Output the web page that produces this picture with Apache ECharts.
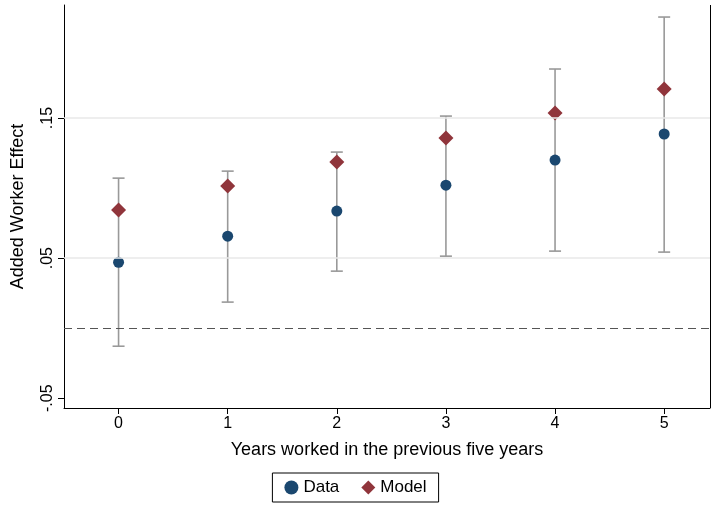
<!DOCTYPE html>
<html>
<head>
<meta charset="utf-8">
<script src="https://cdn.jsdelivr.net/npm/echarts@6/dist/echarts.min.js"></script>
<style>html,body{margin:0;padding:0;background:#fff}#c{width:711px;height:506px}</style>
</head>
<body>
<div id="c"></div>
<script>
var years = [0, 1, 2, 3, 4, 5];
var dataVals = [0.047, 0.0657, 0.0836, 0.1021, 0.12, 0.1386];
var modelVals = [0.0843, 0.1014, 0.1186, 0.1357, 0.1536, 0.1707];
var ciLow = [-0.0129, 0.0186, 0.0407, 0.0514, 0.055, 0.0543];
var ciHigh = [0.1071, 0.1121, 0.1257, 0.1514, 0.185, 0.2221];
var yTicks = [-0.05, 0.05, 0.15];

var chart = echarts.init(document.getElementById('c'));
var font = 'Liberation Sans';

chart.setOption({
    animation: false,
    textStyle: { fontFamily: font },
    grid: { left: 64, right: 1, top: 5, bottom: 98 },
    xAxis: {
        type: 'value', min: -0.5, max: 5.42,
        name: 'Years worked in the previous five years',
        nameLocation: 'middle', nameGap: 33,
        nameTextStyle: { fontSize: 18, color: '#000' },
        axisLine: { onZero: false, lineStyle: { color: '#000' } },
        axisTick: { customValues: years, length: 6, lineStyle: { color: '#000' } },
        axisLabel: { customValues: years, fontSize: 16, color: '#000' },
        splitLine: { show: false }
    },
    yAxis: {
        type: 'value', min: -0.057, max: 0.2307,
        name: 'Added Worker Effect',
        nameLocation: 'middle', nameGap: 37,
        nameTextStyle: { fontSize: 18, color: '#000' },
        axisLine: { show: true, onZero: false, lineStyle: { color: '#000' } },
        axisTick: { customValues: yTicks, length: 6, lineStyle: { color: '#000' } },
        axisLabel: {
            customValues: yTicks, fontSize: 16, color: '#000', rotate: 90,
            formatter: function (v) { return String(Math.round(v * 100) / 100).replace('0.', '.'); }
        },
        splitLine: { show: false }
    },
    legend: {
        bottom: 4, left: 'center',
        borderColor: '#000', borderWidth: 1, padding: [6, 12],
        itemGap: 22, itemWidth: 14, itemHeight: 14,
        textStyle: { fontSize: 17, color: '#000' },
        data: [
            { name: 'Data', icon: 'circle' },
            { name: 'Model', icon: 'diamond' }
        ]
    },
    series: [
        {
            type: 'custom', name: 'ci', silent: true, z: 1,
            data: years.map(function (x, i) { return [x, ciLow[i], ciHigh[i]]; }),
            renderItem: function (params, api) {
                var lo = api.coord([api.value(0), api.value(1)]);
                var hi = api.coord([api.value(0), api.value(2)]);
                var w = 6;
                var st = { stroke: '#999', lineWidth: 1.6 };
                return { type: 'group', children: [
                    { type: 'line', shape: { x1: lo[0], y1: lo[1], x2: hi[0], y2: hi[1] }, style: st },
                    { type: 'line', shape: { x1: lo[0] - w, y1: lo[1], x2: lo[0] + w, y2: lo[1] }, style: st },
                    { type: 'line', shape: { x1: hi[0] - w, y1: hi[1], x2: hi[0] + w, y2: hi[1] }, style: st }
                ] };
            }
        },
        {
            type: 'line', name: 'zero', silent: true, symbol: 'none', data: [],
            markLine: {
                symbol: 'none', silent: true, label: { show: false },
                lineStyle: { color: '#555', type: [8, 5], width: 1.2 },
                data: [{ yAxis: 0 }]
            }
        },
        {
            type: 'line', name: 'grid', silent: true, symbol: 'none', data: [],
            markLine: {
                symbol: 'none', silent: true, label: { show: false },
                lineStyle: { color: '#e8e8e8', type: 'solid', width: 1.5 },
                data: [{ yAxis: 0.05 }, { yAxis: 0.15 }]
            }
        },
        {
            type: 'line', name: 'border', silent: true, symbol: 'none', data: [],
            markLine: {
                symbol: 'none', silent: true, label: { show: false },
                lineStyle: { color: '#000', type: 'solid', width: 1 },
                data: [{ xAxis: 5.42 }]
            }
        },
        {
            type: 'scatter', name: 'Data', symbol: 'circle', symbolSize: 11, z: 3,
            itemStyle: { color: '#1a476f', opacity: 1 },
            data: years.map(function (x, i) { return [x, dataVals[i]]; })
        },
        {
            type: 'scatter', name: 'Model', symbol: 'diamond', symbolSize: 15, z: 3,
            itemStyle: { color: '#90353b', opacity: 1 },
            data: years.map(function (x, i) { return [x, modelVals[i]]; })
        }
    ]
});
</script>
</body>
</html>
